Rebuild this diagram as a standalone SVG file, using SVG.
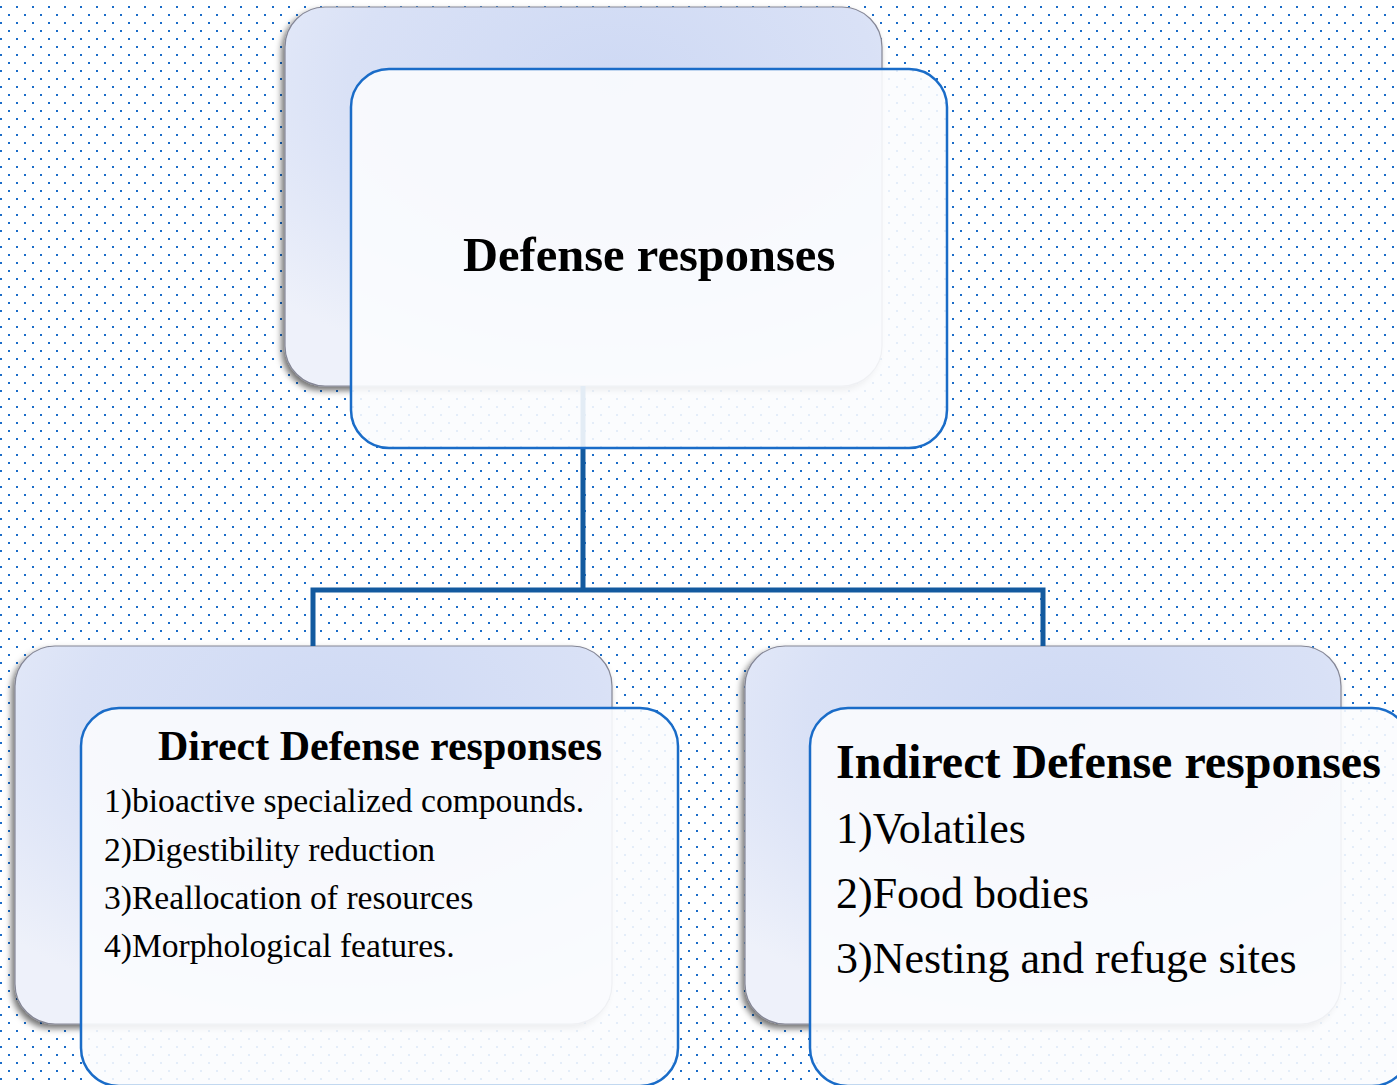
<svg xmlns="http://www.w3.org/2000/svg" width="1397" height="1085" viewBox="0 0 1397 1085">
  <style>
    .back { stroke: #858796; stroke-width: 1.2; fill: url(#backGrad); filter: url(#shadow); }
    .front { stroke: #1a6cc8; stroke-width: 2.5; fill: #fbfcfe; fill-opacity: 0.9; }
    .conn { stroke: #135a9f; stroke-width: 5; fill: none; }
    .title { font-family: "Liberation Serif", "DejaVu Serif", serif; font-weight: bold; fill: #000; }
    .item { font-family: "Liberation Serif", "DejaVu Serif", serif; fill: #000; }
  </style>
  <defs>
    <pattern id="dots" x="0" y="0" width="16" height="16" patternUnits="userSpaceOnUse">
      <rect x="0" y="6" width="2" height="2" fill="#1a6cc8"/>
      <rect x="8" y="14" width="2" height="2" fill="#1a6cc8"/>
    </pattern>
    <radialGradient id="backGrad" cx="0.55" cy="0.2" r="0.8">
      <stop offset="0" stop-color="#ced9f4"/>
      <stop offset="0.55" stop-color="#d9e1f6"/>
      <stop offset="1" stop-color="#eef1fa"/>
    </radialGradient>
    <filter id="shadow" x="-10%" y="-10%" width="120%" height="125%">
      <feDropShadow dx="-3" dy="4" stdDeviation="3" flood-color="#000" flood-opacity="0.55"/>
    </filter>
  </defs>

  <rect x="0" y="0" width="1397" height="1085" fill="#ffffff"/>
  <rect x="0" y="0" width="1397" height="1085" fill="url(#dots)"/>

  <g id="node-top-back">
    <rect class="back" x="285" y="7" width="597" height="379" rx="40"/>
  </g>
  <g id="node-left-back">
    <rect class="back" x="15" y="646" width="597" height="378" rx="40"/>
  </g>
  <g id="node-right-back">
    <rect class="back" x="745" y="646" width="596" height="378" rx="40"/>
  </g>

  <g id="connectors">
    <path class="conn" d="M583,386 V590"/>
    <path class="conn" d="M313,646 V590 H1043 V646"/>
  </g>

  <g id="node-top">
    <rect class="front" x="351" y="69" width="596" height="379" rx="38"/>
    <text class="title" x="463" y="271" font-size="48.5">Defense responses</text>
  </g>

  <g id="node-direct">
    <rect class="front" x="81" y="708" width="597" height="378" rx="38"/>
    <text class="title" x="158" y="760" font-size="42">Direct Defense responses</text>
    <text class="item" x="104" y="812" font-size="33.6">1)bioactive specialized compounds.</text>
    <text class="item" x="104" y="861" font-size="33.6">2)Digestibility reduction</text>
    <text class="item" x="104" y="909" font-size="33.6">3)Reallocation of resources</text>
    <text class="item" x="104" y="957" font-size="33.6">4)Morphological features.</text>
  </g>

  <g id="node-indirect">
    <rect class="front" x="810" y="708" width="600" height="378" rx="38"/>
    <text class="title" x="836" y="778" font-size="48">Indirect Defense responses</text>
    <text class="item" x="836" y="843" font-size="44">1)Volatiles</text>
    <text class="item" x="836" y="908" font-size="44">2)Food bodies</text>
    <text class="item" x="836" y="973" font-size="44">3)Nesting and refuge sites</text>
  </g>
</svg>
